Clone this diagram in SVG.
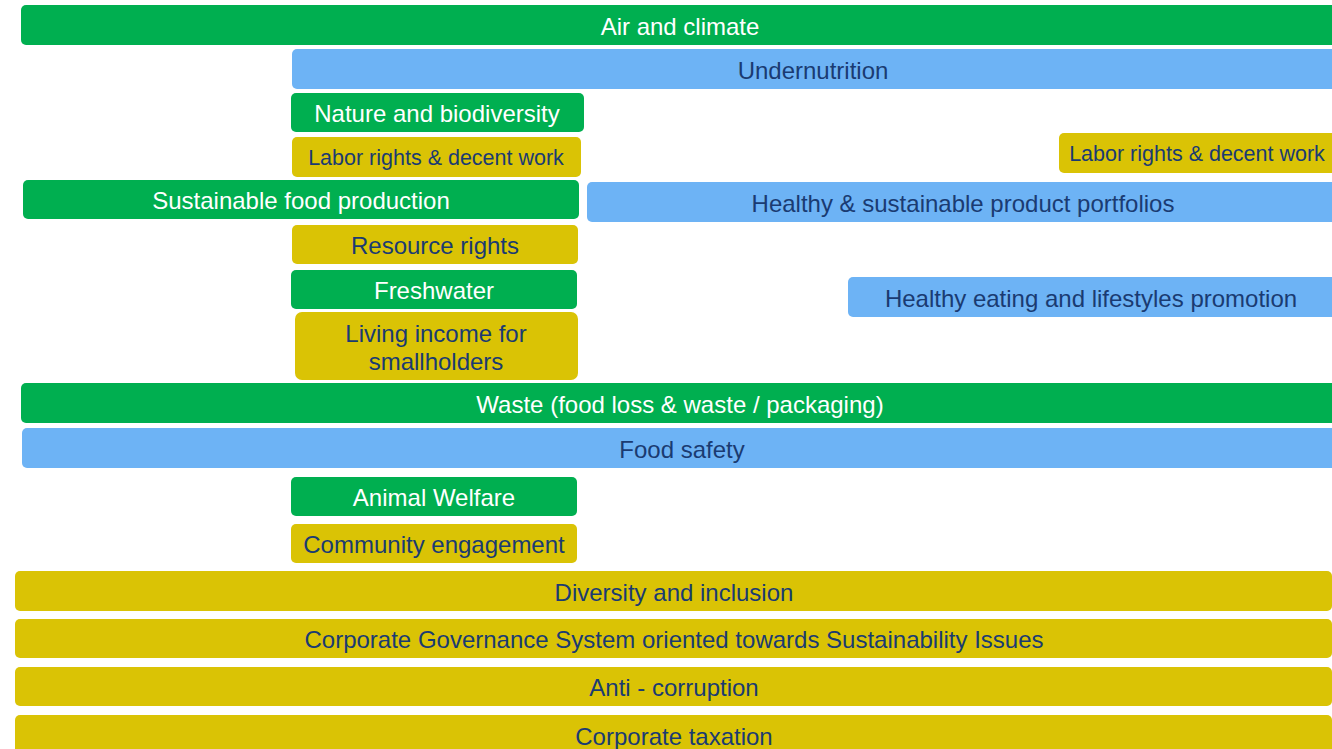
<svg xmlns="http://www.w3.org/2000/svg" width="1332" height="749" viewBox="0 0 1332 749">
<style>
.g{fill:#00AF50}.b{fill:#6DB3F5}.y{fill:#DAC305}
text{font-family:"Liberation Sans",Arial,sans-serif;font-size:24px;text-anchor:middle;dominant-baseline:central}
.w{fill:#FFFFFF}.d{fill:#1A3B72}.s{font-size:21.5px}
</style>
<rect width="1332" height="749" fill="#FFFFFF"/>
<g id="air"><rect class="g" x="21" y="5" width="1320" height="40" rx="5"/><text class="w" x="680" y="26">Air and climate</text></g>
<g id="undernutrition"><rect class="b" x="292" y="49" width="1045" height="40" rx="5"/><text class="d" x="813" y="70">Undernutrition</text></g>
<g id="nature"><rect class="g" x="291" y="93" width="293" height="39" rx="5"/><text class="w" x="437" y="113.5">Nature and biodiversity</text></g>
<g id="labor-left"><rect class="y" x="292" y="137" width="289" height="40" rx="5"/><text class="d s" x="436" y="158">Labor rights &amp; decent work</text></g>
<g id="labor-right"><rect class="y" x="1059" y="133" width="280" height="40" rx="5"/><text class="d s" x="1197" y="154">Labor rights &amp; decent work</text></g>
<g id="sustainable-food"><rect class="g" x="23" y="180" width="556" height="39" rx="5"/><text class="w" x="301" y="200.5">Sustainable food production</text></g>
<g id="healthy-portfolios"><rect class="b" x="587" y="182" width="753" height="40" rx="5"/><text class="d" x="963" y="203">Healthy &amp; sustainable product portfolios</text></g>
<g id="resource-rights"><rect class="y" x="292" y="225" width="286" height="39" rx="5"/><text class="d" x="435" y="245.5">Resource rights</text></g>
<g id="freshwater"><rect class="g" x="291" y="270" width="286" height="39" rx="5"/><text class="w" x="434" y="290.5">Freshwater</text></g>
<g id="living-income"><rect class="y" x="295" y="312" width="283" height="68" rx="7"/><text class="d" x="436" y="333">Living income for</text><text class="d" x="436" y="361">smallholders</text></g>
<g id="healthy-eating"><rect class="b" x="848" y="277" width="490" height="40" rx="5"/><text class="d" x="1091" y="298">Healthy eating and lifestyles promotion</text></g>
<g id="waste"><rect class="g" x="21" y="383" width="1320" height="40" rx="5"/><text class="w" x="680" y="404">Waste (food loss &amp; waste / packaging)</text></g>
<g id="food-safety"><rect class="b" x="22" y="428" width="1320" height="40" rx="5"/><text class="d" x="682" y="449">Food safety</text></g>
<g id="animal-welfare"><rect class="g" x="291" y="477" width="286" height="39" rx="5"/><text class="w" x="434" y="497.5">Animal Welfare</text></g>
<g id="community"><rect class="y" x="291" y="524" width="286" height="39" rx="5"/><text class="d" x="434" y="544.5">Community engagement</text></g>
<g id="diversity"><rect class="y" x="15" y="571" width="1317" height="40" rx="5"/><text class="d" x="674" y="592">Diversity and inclusion</text></g>
<g id="governance"><rect class="y" x="15" y="619" width="1317" height="39" rx="5"/><text class="d" x="674" y="639.5">Corporate Governance System oriented towards Sustainability Issues</text></g>
<g id="anti-corruption"><rect class="y" x="15" y="667" width="1317" height="39" rx="5"/><text class="d" x="674" y="687.5">Anti - corruption</text></g>
<g id="taxation"><rect class="y" x="15" y="715" width="1317" height="45" rx="5"/><text class="d" x="674" y="736">Corporate taxation</text></g>
<g id="connectors"/>
</svg>
